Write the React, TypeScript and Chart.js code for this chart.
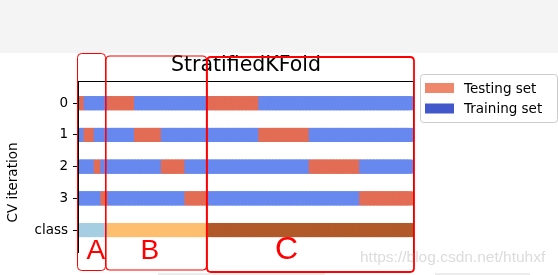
import React, { useEffect, useRef } from 'react';
import { Chart, registerables } from 'chart.js';

Chart.register(...registerables);

// ---- data ----
const classSizes = [10, 30, 60];
const classColors = ['#a6cee3', '#fdbf6f', '#b15928'];
// test-sample index ranges [start, end) for each CV iteration
const cvTestRanges: number[][][] = [
  [[0, 3], [10, 18], [40, 55]],
  [[3, 6], [18, 26], [55, 70]],
  [[6, 8], [26, 33], [70, 85]],
  [[8, 10], [33, 40], [85, 100]],
];
const yTickValues = [0.5, 1.5, 2.5, 3.5, 4.5];
const yTickLabels = ['0', '1', '2', '3', 'class'];
const legendLabels = ['Testing set', 'Training set'];
const legendColors = ['#ef886b', '#4257c9'];
const testColor = '#e36c55';
const trainColor = '#6788ee';
const chartTitle = 'StratifiedKFold';
const yAxisTitle = 'CV iteration';
const annotationLabels = ['A', 'B', 'C'];
const watermark = 'https://blog.csdn.net/htuhxf';

const MPL_FONT = "'DejaVu Sans', sans-serif";

function buildDatasets() {
  const sampleClass: number[] = [];
  classSizes.forEach((n, c) => {
    for (let k = 0; k < n; k++) sampleClass.push(c);
  });
  const datasets: any[] = [];
  const common = {
    showLine: false,
    pointStyle: 'line',
    pointRadius: 4.5,
    pointHoverRadius: 4.5,
    pointBorderWidth: 14,
    pointHoverBorderWidth: 14,
    clip: 0,
  };
  cvTestRanges.forEach((ranges, ii) => {
    const data = sampleClass.map((_, i) => ({ x: i, y: yTickValues[ii] }));
    const colors = sampleClass.map((_, i) =>
      ranges.some(([s, e]) => i >= s && i < e) ? testColor : trainColor
    );
    datasets.push({
      ...common,
      label: 'cv' + ii,
      data,
      pointBorderColor: colors,
      pointBackgroundColor: colors,
    });
  });
  const classData = sampleClass.map((_, i) => ({ x: i, y: yTickValues[4] }));
  const cColors = sampleClass.map((c) => classColors[c]);
  datasets.push({
    ...common,
    label: 'class',
    data: classData,
    pointBorderColor: cColors,
    pointBackgroundColor: cColors,
  });
  return datasets;
}

function roundRectPath(ctx: CanvasRenderingContext2D, x: number, y: number, w: number, h: number, r: number) {
  ctx.beginPath();
  ctx.moveTo(x + r, y);
  ctx.lineTo(x + w - r, y);
  ctx.quadraticCurveTo(x + w, y, x + w, y + r);
  ctx.lineTo(x + w, y + h - r);
  ctx.quadraticCurveTo(x + w, y + h, x + w - r, y + h);
  ctx.lineTo(x + r, y + h);
  ctx.quadraticCurveTo(x, y + h, x, y + h - r);
  ctx.lineTo(x, y + r);
  ctx.quadraticCurveTo(x, y, x + r, y);
  ctx.closePath();
}

const decorPlugin = {
  id: 'decor',
  beforeDraw(chart: any) {
    const ctx = chart.ctx as CanvasRenderingContext2D;
    ctx.save();
    ctx.fillStyle = '#ffffff';
    ctx.fillRect(0, 0, chart.width, chart.height);
    ctx.fillStyle = '#f4f4f4';
    ctx.fillRect(0, 0, chart.width, 53);
    ctx.restore();
  },
  afterDraw(chart: any) {
    const ctx = chart.ctx as CanvasRenderingContext2D;
    const a = chart.chartArea;
    ctx.save();
    // axes frame (left, top, right spines)
    ctx.strokeStyle = '#000';
    ctx.lineWidth = 1;
    ctx.beginPath();
    ctx.moveTo(a.left + 0.5, a.bottom);
    ctx.lineTo(a.left + 0.5, a.top + 0.5);
    ctx.lineTo(a.right - 0.5, a.top + 0.5);
    ctx.lineTo(a.right - 0.5, a.bottom);
    ctx.stroke();

    // erased lower strip of the picture
    ctx.fillStyle = '#ffffff';
    ctx.fillRect(60, 253, 362, 40);
    ctx.fillStyle = '#ececec';
    ctx.fillRect(158, 273, 167, 2);
    ctx.fillRect(435, 273, 95, 2);

    // legend
    roundRectPath(ctx, 420.5, 74.5, 137, 48, 3);
    ctx.fillStyle = 'rgba(255,255,255,0.8)';
    ctx.fill();
    ctx.strokeStyle = '#cccccc';
    ctx.lineWidth = 1;
    ctx.stroke();
    ctx.font = `13.5px ${MPL_FONT}`;
    ctx.textBaseline = 'alphabetic';
    ctx.textAlign = 'left';
    legendLabels.forEach((lab, i) => {
      const py = 83 + i * 20.5;
      ctx.fillStyle = legendColors[i];
      ctx.fillRect(425, py, 29, 10);
      ctx.fillStyle = '#000';
      ctx.fillText(lab, 464, 92.5 + i * 20.3);
    });

    // watermark
    ctx.font = "15.5px 'Liberation Sans', Arial, sans-serif";
    ctx.fillStyle = '#dcdcdc';
    ctx.fillText(watermark, 360, 262);

    // red annotation boxes
    ctx.strokeStyle = '#ff0000';
    const boxes = [
      { x: 77.5, y: 53.5, x2: 105.5, y2: 270.5, lw: 1 },
      { x: 106, y: 56, x2: 206.5, y2: 270, lw: 1.2 },
      { x: 207, y: 57, x2: 414, y2: 272, lw: 1.8 },
    ];
    boxes.forEach((b) => {
      ctx.lineWidth = b.lw;
      roundRectPath(ctx, b.x, b.y, b.x2 - b.x, b.y2 - b.y, 4);
      ctx.stroke();
    });
    ctx.fillStyle = '#ff0000';
    const letters = [
      { x: 86.5, y: 258.5, size: 28 },
      { x: 140.5, y: 258.5, size: 28 },
      { x: 275, y: 258.5, size: 32 },
    ];
    letters.forEach((l, i) => {
      ctx.font = `${l.size}px 'Liberation Sans', Arial, sans-serif`;
      ctx.fillText(annotationLabels[i], l.x, l.y);
    });
    ctx.restore();
  },
};

export default function App() {
  const canvasRef = useRef<HTMLCanvasElement | null>(null);

  useEffect(() => {
    document.body.style.margin = '0';
    const canvas = canvasRef.current;
    if (!canvas) return;
    const chart = new Chart(canvas, {
      type: 'scatter',
      data: { datasets: buildDatasets() },
      options: {
        responsive: false,
        animation: false,
        events: [],
        devicePixelRatio: 1,
        layout: { autoPadding: false, padding: { left: 0, top: 0, right: 144, bottom: 0 } },
        plugins: {
          legend: { display: false },
          tooltip: { enabled: false },
          title: {
            display: true,
            text: chartTitle,
            fullSize: false,
            color: '#000',
            font: { family: MPL_FONT, size: 20.5, weight: 'normal', lineHeight: 1.2 },
            padding: { top: 53.7, bottom: 2.7 },
          },
        },
        scales: {
          x: { type: 'linear', min: 0, max: 100, display: false },
          y: {
            type: 'linear',
            reverse: true,
            min: -0.2,
            max: 6.2,
            bounds: 'data',
            afterBuildTicks: (s: any) => {
              s.ticks = yTickValues.map((v) => ({ value: v }));
            },
            afterFit: (s: any) => {
              s.width = 78;
              s.paddingTop = 0;
              s.paddingBottom = 0;
            },
            ticks: {
              autoSkip: false,
              padding: 5,
              color: '#000',
              font: { family: MPL_FONT, size: 13.5 },
              callback: (_v: any, i: number) => yTickLabels[i],
            },
            grid: {
              display: true,
              drawOnChartArea: false,
              drawTicks: true,
              tickLength: 5,
              color: '#000',
              lineWidth: 1,
            },
            border: { display: true, color: '#000', width: 1 },
            title: {
              display: true,
              text: yAxisTitle,
              color: '#000',
              font: { family: MPL_FONT, size: 13.5, lineHeight: 1.2 },
              padding: { top: 5, bottom: 0 },
            },
          },
        },
      } as any,
      plugins: [decorPlugin],
    });
    return () => chart.destroy();
  }, []);

  return (
    <div style={{ position: 'absolute', left: 0, top: 0, width: 558, height: 275, overflow: 'hidden' }}>
      <canvas ref={canvasRef} width={558} height={284} style={{ display: 'block' }} />
    </div>
  );
}
